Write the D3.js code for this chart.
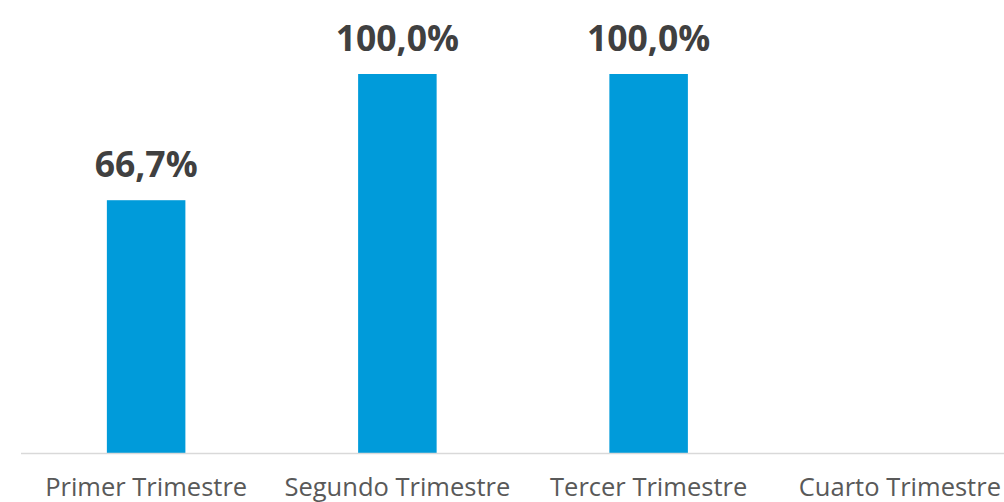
<!DOCTYPE html>
<html>
<head>
<meta charset="utf-8">
<script src="https://cdn.jsdelivr.net/npm/d3@7"></script>
<style>
  body { margin: 0; background: #fff; }
  svg { display: block; font-family: "Open Sans", sans-serif; }
</style>
</head>
<body>
<svg id="graph" width="1004" height="502"></svg>
<script>
// datos del grafico
var trimestres = ["Primer Trimestre", "Segundo Trimestre", "Tercer Trimestre", "Cuarto Trimestre"];
var valores = [0.667, 1.0, 1.0, null];
var etiquetas = ["66,7%", "100,0%", "100,0%", ""];

function creaGrafica() {
    let svg = d3.select("#graph");
    var datos = trimestres.map((t, i) => ({ trimestre: t, valor: valores[i], etiqueta: etiquetas[i] }));

    // escala de bandas para las categorias (el ultimo tramo se sale del svg)
    var x = d3.scaleBand()
        .domain(trimestres)
        .range([20.5, 1025.5])
        .paddingInner(0.6875)
        .paddingOuter(0.6875 / 2);

    var y = d3.scaleLinear()
        .domain([0, 1])
        .range([453, 74]);

    // barras
    svg.append("g")
        .selectAll("rect")
        .data(datos.filter(d => d.valor != null))
        .enter()
        .append("rect")
        .attr("x", d => x(d.trimestre))
        .attr("y", d => y(d.valor))
        .attr("width", x.bandwidth())
        .attr("height", d => y(0) - y(d.valor))
        .attr("fill", "#009BDA");

    // eje x
    var eje = svg.append("g")
        .attr("transform", "translate(0," + y(0) + ")")
        .call(d3.axisBottom(x).tickSize(0).tickPadding(0));
    eje.select(".domain")
        .attr("stroke", "#d9d9d9")
        .attr("stroke-width", 1.5);
    eje.selectAll("text")
        .attr("y", 43)
        .attr("dy", 0)
        .style("font-family", "'Open Sans', sans-serif")
        .style("font-size", "25.5px")
        .attr("fill", "#595959");

    // etiquetas de datos
    svg.append("g")
        .selectAll("text")
        .data(datos.filter(d => d.valor != null))
        .enter()
        .append("text")
        .attr("x", d => x(d.trimestre) + x.bandwidth() / 2)
        .attr("y", d => y(d.valor) - 23)
        .attr("text-anchor", "middle")
        .style("font-size", "35.5px")
        .style("font-weight", "bold")
        .attr("fill", "#404040")
        .text(d => d.etiqueta);
}

creaGrafica();
</script>
</body>
</html>
